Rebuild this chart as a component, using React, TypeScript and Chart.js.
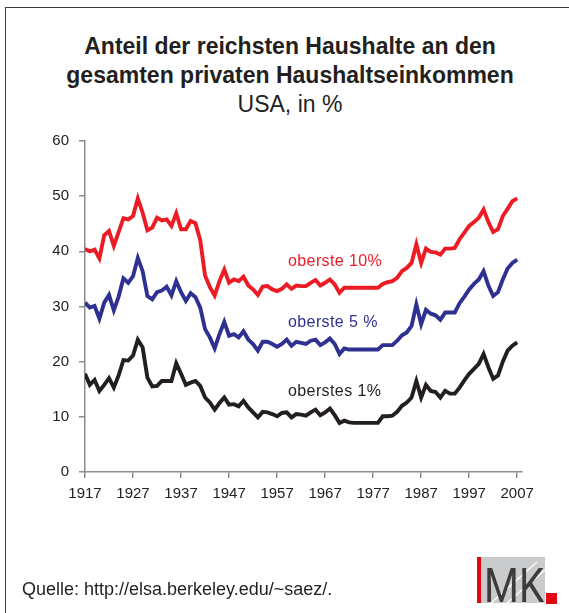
import React, { useEffect, useRef } from "react";
import { Chart, registerables } from "chart.js";

Chart.register(...registerables);

const firstYear = 1917;
const lastYear = 2007;
const years: number[] = [];
for (let y = firstYear; y <= lastYear; y++) years.push(y);

const xTickYears = [1917, 1927, 1937, 1947, 1957, 1967, 1977, 1987, 1997, 2007];
const yTickValues = [0, 10, 20, 30, 40, 50, 60];

// oberste 10 %, 1917-2007
const top10 = [
  40.4, 40.0, 40.3, 38.7, 42.9, 43.7, 41.0, 43.5, 46.0, 45.8,
  46.4, 49.6, 47.0, 43.8, 44.3, 46.1, 45.6, 45.8, 44.6, 46.9,
  44.0, 44.0, 45.5, 45.1, 42.0, 35.6, 33.5, 32.0, 34.6, 36.7,
  34.3, 34.9, 34.6, 35.4, 33.8, 33.1, 32.1, 33.6, 33.7, 33.1,
  32.8, 33.2, 34.0, 33.2, 33.8, 33.7, 33.7, 34.3, 34.8, 33.8,
  34.3, 34.9, 34.0, 32.5, 33.4, 33.4, 33.4, 33.4, 33.4, 33.4,
  33.4, 33.4, 34.1, 34.4, 34.6, 35.2, 36.4, 37.0, 37.9, 41.3,
  37.9, 40.5, 39.9, 39.8, 39.4, 40.5, 40.5, 40.6, 42.2, 43.4,
  44.6, 45.3, 46.1, 47.6, 45.3, 43.5, 44.0, 46.4, 47.7, 49.1,
  49.6,
];

// oberste 5 %, 1917-2007
const top5 = [
  30.7, 29.8, 30.1, 27.8, 30.7, 32.1, 29.3, 31.8, 35.1, 34.3,
  35.5, 38.8, 36.4, 31.9, 31.3, 32.6, 32.9, 33.6, 32.0, 34.6,
  32.6, 31.0, 32.4, 31.7, 29.8, 25.9, 24.4, 22.4, 25.0, 27.2,
  24.7, 25.0, 24.4, 25.5, 24.0, 23.2, 22.0, 23.6, 23.6, 23.2,
  22.7, 23.2, 24.0, 22.9, 23.6, 23.4, 23.2, 23.8, 24.0, 23.0,
  23.5, 24.2, 23.2, 21.4, 22.4, 22.2, 22.2, 22.2, 22.2, 22.2,
  22.2, 22.2, 23.0, 23.0, 23.0, 23.8, 24.8, 25.3, 26.5, 30.4,
  26.8, 29.4, 28.7, 28.4, 27.6, 28.9, 28.9, 28.9, 30.6, 31.8,
  33.1, 34.1, 34.9, 36.4, 33.8, 31.9, 32.6, 34.9, 36.9, 37.9,
  38.5,
];

// oberstes 1 %, 1917-2007
const top1 = [
  17.8, 15.8, 16.7, 14.7, 15.8, 17.0, 15.3, 17.5, 20.3, 20.2,
  21.1, 24.0, 22.6, 17.1, 15.5, 15.6, 16.5, 16.5, 16.5, 19.7,
  17.8, 15.8, 16.2, 16.5, 15.6, 13.5, 12.6, 11.3, 12.5, 13.5,
  12.2, 12.3, 11.9, 12.9, 11.7, 10.8, 9.9, 10.9, 10.8, 10.5,
  10.1, 10.7, 10.8, 9.9, 10.5, 10.4, 10.2, 10.8, 11.3, 10.3,
  10.8, 11.5, 10.3, 8.9, 9.3, 9.0, 8.9, 8.9, 8.9, 8.9,
  8.9, 8.9, 10.1, 10.1, 10.2, 10.9, 12.0, 12.6, 13.5, 16.5,
  13.5, 15.8, 14.7, 14.5, 13.5, 14.7, 14.2, 14.2, 15.3, 16.6,
  17.8, 18.7, 19.6, 21.4, 19.0, 16.9, 17.5, 20.0, 22.0, 22.9,
  23.5,
];

const seriesLabels = ["oberste 10%", "oberste 5 %", "oberstes 1%"];
const seriesColors = ["#ED1C24", "#2E3192", "#231F20"];

const titleLines = [
  "Anteil der reichsten Haushalte an den",
  "gesamten privaten Haushaltseinkommen",
];
const subtitle = "USA, in %";
const sourceText = "Quelle: http://elsa.berkeley.edu/~saez/.";

const FONT = "'Liberation Sans', Arial, Helvetica, sans-serif";

export default function App() {
  const canvasRef = useRef<HTMLCanvasElement | null>(null);

  useEffect(() => {
    const canvas = canvasRef.current;
    if (!canvas) return;
    const mk = (values: number[], i: number) => ({
      label: seriesLabels[i],
      data: years.map((x, k) => ({ x, y: values[k] })),
      borderColor: seriesColors[i],
      backgroundColor: seriesColors[i],
      borderWidth: 3.9,
      pointRadius: 0,
      fill: false,
      tension: 0,
    });
    const axisColor = "#8c8c8c";
    const chart = new Chart(canvas, {
      type: "line",
      data: { datasets: [mk(top10, 0), mk(top5, 1), mk(top1, 2)] },
      options: {
        animation: false,
        responsive: false,
        maintainAspectRatio: false,
        layout: { padding: { top: 141, left: 0, right: 47, bottom: 111 } },
        plugins: {
          legend: { display: false },
          tooltip: { enabled: false },
          title: { display: false },
        },
        scales: {
          x: {
            type: "linear",
            min: 1917,
            max: 2008,
            afterBuildTicks: (s: any) => {
              s.ticks = xTickYears.map((v) => ({ value: v }));
            },
            afterFit: (s: any) => {
              s.height = 30;
            },
            grid: {
              display: true,
              drawOnChartArea: false,
              drawTicks: true,
              tickLength: 6,
              color: axisColor,
              lineWidth: 1.5,
            },
            border: { display: true, color: axisColor, width: 1.5 },
            ticks: {
              font: { family: FONT, size: 15 },
              color: "#222",
              padding: 7,
              maxRotation: 0,
              autoSkip: false,
              callback: (v: any) => String(v),
            },
          },
          y: {
            type: "linear",
            min: 0,
            max: 60,
            afterBuildTicks: (s: any) => {
              s.ticks = yTickValues.map((v) => ({ value: v }));
            },
            afterFit: (s: any) => {
              s.width = 85;
            },
            grid: {
              display: true,
              drawOnChartArea: false,
              drawTicks: true,
              tickLength: 6,
              color: axisColor,
              lineWidth: 1.5,
            },
            border: { display: true, color: axisColor, width: 1.5 },
            ticks: {
              font: { family: FONT, size: 15 },
              color: "#222",
              padding: 10,
              callback: (v: any) => String(v),
            },
          },
        },
      },
    });
    return () => chart.destroy();
  }, []);

  const labelStyle = (top: number, color: string): React.CSSProperties => ({
    position: "absolute",
    left: 288,
    top,
    fontFamily: FONT,
    fontSize: 16,
    lineHeight: "16px",
    letterSpacing: "0.4px",
    color,
    whiteSpace: "nowrap",
  });

  return (
    <div
      style={{
        position: "absolute",
        left: 0,
        top: 0,
        width: 569,
        height: 613,
        overflow: "hidden",
        background: "#fff",
        fontFamily: FONT,
      }}
    >
      <div
        style={{
          position: "absolute",
          left: 5,
          top: 7,
          width: 700,
          height: 800,
          borderLeft: "1.5px solid #3a3a3a",
          borderTop: "1.5px solid #3a3a3a",
        }}
      />
      <div
        style={{
          position: "absolute",
          left: 6,
          width: 568,
          top: 32,
          textAlign: "center",
          color: "#231F20",
          fontSize: 23,
          lineHeight: "29px",
        }}
      >
        <div style={{ fontWeight: "bold" }}>{titleLines[0]}</div>
        <div style={{ fontWeight: "bold" }}>{titleLines[1]}</div>
        <div>{subtitle}</div>
      </div>
      <canvas
        ref={canvasRef}
        width={569}
        height={613}
        style={{ position: "absolute", left: 0, top: 0, width: 569, height: 613 }}
      />
      <div style={labelStyle(253, seriesColors[0])}>{seriesLabels[0]}</div>
      <div style={labelStyle(314, seriesColors[1])}>{seriesLabels[1]}</div>
      <div style={labelStyle(383, seriesColors[2])}>{seriesLabels[2]}</div>
      <div
        style={{
          position: "absolute",
          left: 22,
          top: 580,
          fontSize: 18,
          lineHeight: "18px",
          color: "#231F20",
          whiteSpace: "nowrap",
        }}
      >
        {sourceText}
      </div>
      <svg
        width={82}
        height={50}
        style={{ position: "absolute", left: 477, top: 556 }}
      >
        <rect x={4} y={1} width={64} height={46} fill="#c9cbcd" />
        <line x1={14} y1={47} x2={60} y2={6} stroke="#fff" strokeWidth={1.2} />
        <line x1={30} y1={47} x2={68} y2={14} stroke="#fff" strokeWidth={1.2} />
        <rect x={0} y={1} width={4} height={46} fill="#E30613" />
        <text
          x={7}
          y={46}
          fontSize={48}
          fontFamily="Roboto, 'Liberation Sans', sans-serif"
          fontWeight={400}
          fill="#3c3c3b"
          textLength={60}
          lengthAdjust="spacingAndGlyphs"
        >
          MK
        </text>
        <rect x={69} y={37} width={11} height={11} fill="#E30613" />
      </svg>
    </div>
  );
}
